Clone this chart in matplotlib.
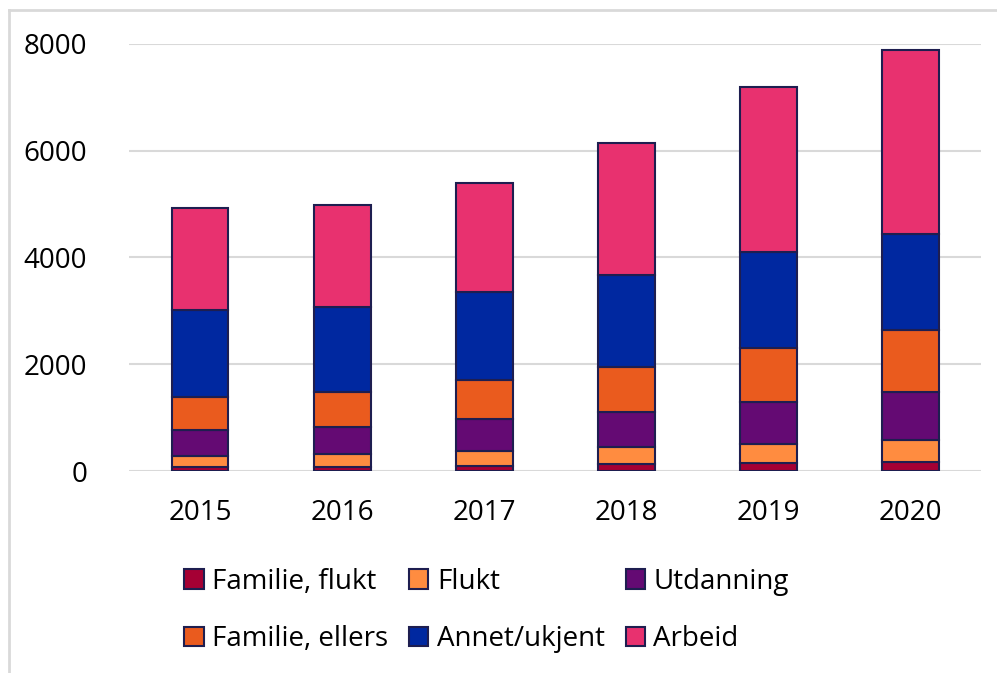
import matplotlib.pyplot as plt
from matplotlib.lines import Line2D

plt.rcParams['font.family'] = ['Open Sans', 'DejaVu Sans']

years = ['2015', '2016', '2017', '2018', '2019', '2020']
familie_flukt = [75, 85, 100, 125, 155, 170]
flukt = [206, 233, 275, 330, 351, 417]
utdanning = [487, 512, 593, 650, 781, 893]
familie_ellers = [618, 650, 736, 843, 1017, 1161]
annet = [1630, 1592, 1649, 1723, 1798, 1798]
arbeid = [1910, 1910, 2041, 2472, 3090, 3446]

series = [
    ('Familie, flukt', familie_flukt, '#A50034'),
    ('Flukt', flukt, '#FF8C40'),
    ('Utdanning', utdanning, '#640A73'),
    ('Familie, ellers', familie_ellers, '#EA5B1E'),
    ('Annet/ukjent', annet, '#0028A0'),
    ('Arbeid', arbeid, '#E8316F'),
]

fig = plt.figure(figsize=(9.97, 6.73), dpi=100)
ax = fig.add_axes([0.1294, 0.300, 0.855, 0.635])

x = range(len(years))
bottom = [0] * len(years)
handles = {}
for name, vals, col in series:
    b = ax.bar(x, vals, width=0.40, bottom=bottom, color=col,
               edgecolor='#1E1E50', linewidth=1.5, label=name, zorder=3)
    handles[name] = b
    bottom = [p + q for p, q in zip(bottom, vals)]

ax.set_xlim(-0.5, 5.5)
ax.set_ylim(0, 8000)
ax.set_yticks([0, 2000, 4000, 6000, 8000])
ax.set_xticks(list(x))
ax.set_xticklabels(years)
ax.yaxis.grid(True, color='#D9D9D9', linewidth=1.5, zorder=0)
for s in ax.spines.values():
    s.set_visible(False)
ax.tick_params(axis='both', length=0, labelsize=20)
ax.tick_params(axis='y', pad=30)
ax.tick_params(axis='x', pad=20)

# legend order: matplotlib fills column-major
order = ['Familie, flukt', 'Familie, ellers', 'Flukt', 'Annet/ukjent',
         'Utdanning', 'Arbeid']
fig.legend([handles[n] for n in order], order, ncol=3, frameon=False,
           loc='center', bbox_to_anchor=(0.488, 0.093), fontsize=20,
           handlelength=0.7, handleheight=0.7, handletextpad=0.3,
           columnspacing=0.75, labelspacing=1.05)

# light border around the figure
fig.add_artist(Line2D([9 / 997, 9 / 997], [0, 1 - 10 / 673],
                      color='#D9D9D9', linewidth=2, transform=fig.transFigure))
fig.add_artist(Line2D([9 / 997, 1], [1 - 10 / 673, 1 - 10 / 673],
                      color='#D9D9D9', linewidth=2, transform=fig.transFigure))

fig.savefig('out.png', dpi=100)
